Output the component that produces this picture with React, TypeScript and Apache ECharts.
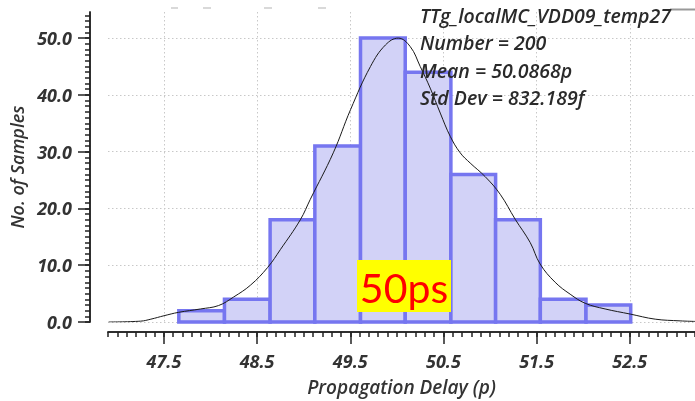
import React, { useEffect, useRef } from "react";
import * as echarts from "echarts";

// Histogram bin edges (p) and counts
const binEdges = [47.66, 48.15, 48.64, 49.12, 49.61, 50.09, 50.58, 51.06, 51.54, 52.03, 52.51];
const binCounts = [2, 4, 18, 31, 50, 44, 26, 18, 4, 3];

// Fitted density curve (x in p, y in samples)
const curveX = [46.907, 47.25, 47.36, 47.5, 47.657, 47.894, 48.087, 48.248, 48.43, 48.613, 48.752, 48.964, 49.071, 49.318, 49.503, 49.717, 49.878, 50.015, 50.144, 50.251, 50.358, 50.466, 50.573, 50.68, 50.787, 50.948, 51.109, 51.27, 51.431, 51.538, 51.699, 51.86, 52.021, 52.235, 52.504, 52.773, 53.04, 53.2];
const curveY = [0, 0.15, 0.5, 1.1, 1.7, 2.3, 2.9, 4.4, 6.5, 9.6, 12.8, 18, 21.6, 29.8, 37.4, 45, 48.8, 50, 48.5, 45, 41.2, 36.8, 32.7, 29.8, 28, 25.6, 22.5, 18.1, 14, 10.2, 7, 4.9, 3.3, 2.3, 1.4, 0.5, 0.2, 0.1];

// Axis ticks
const xMajorTicks = [47.5, 48.5, 49.5, 50.5, 51.5, 52.5];
const yMajorTicks = [0, 10, 20, 30, 40, 50];
const xMin = 46.9;
const xMax = 53.2;
const yMin = 0;
const yMax = 54.6;

const infoLines = ["TTg_localMC_VDD09_temp27", "Number = 200", "Mean = 50.0868p", "Std Dev = 832.189f"];
const tagText = "50ps";

export default function App() {
  const ref = useRef<HTMLDivElement>(null);
  useEffect(() => {
    document.body.style.margin = "0";
    const chart = echarts.init(ref.current!, null, { renderer: "svg" });
    const xMinor: number[] = [];
    for (let i = Math.round(xMin * 10); i <= Math.round(xMax * 10); i++) xMinor.push(i / 10);
    const yMinor: number[] = [];
    for (let i = 0; i <= Math.floor(yMax); i++) yMinor.push(i);

    const textColor = "#333";
    const labelFont = {
      color: textColor,
      fontFamily: "Open Sans",
      fontStyle: "italic" as const,
      fontWeight: "bold" as const,
      fontSize: 18,
    };
    const gridLine = { show: true, lineStyle: { color: "#c8c8c8", type: [1.5, 2.5] as any, width: 1 } };
    const axisLine = { show: true, onZero: false, lineStyle: { color: "#222", width: 1.5 } };

    const bins = binCounts.map((c, i) => [binEdges[i], binEdges[i + 1], c]);
    const curve = curveX.map((x, i) => [x, curveY[i]]);

    chart.setOption({
      animation: false,
      grid: { left: 108, right: 0, top: 12, bottom: 78 },
      xAxis: [
        {
          type: "value",
          min: xMin,
          max: xMax,
          offset: 10,
          axisLine,
          axisTick: { show: true, customValues: xMajorTicks, length: 12, lineStyle: { color: "#222", width: 1.5 } },
          axisLabel: { ...labelFont, customValues: xMajorTicks, margin: 20, formatter: (v: number) => v.toFixed(1) },
          splitLine: gridLine,
          name: "Propagation Delay (p)",
          nameLocation: "middle",
          nameGap: 45,
          nameTextStyle: { ...labelFont, fontWeight: 600, fontSize: 19 },
        },
        {
          type: "value",
          min: xMin,
          max: xMax,
          offset: 10,
          position: "bottom",
          axisLine,
          axisTick: { show: true, customValues: xMinor, length: 5, lineStyle: { color: "#222", width: 1.5 } },
          axisLabel: { show: false },
          splitLine: { show: false },
        },
      ],
      yAxis: [
        {
          type: "value",
          min: yMin,
          max: yMax,
          offset: 18,
          axisLine,
          axisTick: { show: true, customValues: yMajorTicks, length: 12, lineStyle: { color: "#222", width: 1.5 } },
          axisLabel: { ...labelFont, customValues: yMajorTicks, margin: 18, formatter: (v: number) => v.toFixed(1) },
          splitLine: gridLine,
          name: "No. of Samples",
          nameLocation: "middle",
          nameGap: 62,
          nameTextStyle: { ...labelFont, fontWeight: 600 },
        },
        {
          type: "value",
          min: yMin,
          max: yMax,
          offset: 18,
          position: "left",
          axisLine,
          axisTick: { show: true, customValues: yMinor, length: 5, lineStyle: { color: "#222", width: 1.5 } },
          axisLabel: { show: false },
          splitLine: { show: false },
        },
      ],
      series: [
        {
          type: "custom",
          xAxisIndex: 0,
          yAxisIndex: 0,
          data: bins,
          encode: { x: [0, 1], y: 2 },
          renderItem: (params: any, api: any) => {
            const p0 = api.coord([api.value(0), 0]);
            const p1 = api.coord([api.value(1), api.value(2)]);
            return {
              type: "rect",
              shape: { x: p0[0], y: p1[1], width: p1[0] - p0[0], height: p0[1] - p1[1] },
              style: { fill: "rgb(210,210,247)", stroke: "rgb(118,118,240)", lineWidth: 3.5 },
            };
          },
          z: 2,
        },
        {
          type: "line",
          xAxisIndex: 0,
          yAxisIndex: 0,
          data: curve,
          smooth: 0.4,
          showSymbol: false,
          lineStyle: { color: "#1a1a1a", width: 1 },
          z: 3,
        },
      ],
      graphic: [
        ...infoLines.map((t, i) => ({
          type: "text",
          x: 420,
          y: 15 + i * 27.5,
          z: 10,
          style: {
            text: t,
            fill: "#2a2a2a",
            font: 'italic 600 19.5px "Open Sans"',
            textVerticalAlign: "middle",
            textAlign: "left",
          },
        })),
        {
          type: "rect",
          shape: { x: 357, y: 260, width: 94, height: 52 },
          style: { fill: "#ffff00" },
          z: 10,
        },
        {
          type: "text",
          x: 404,
          y: 287,
          z: 11,
          style: {
            text: tagText,
            fill: "#ff0000",
            font: '41px Lato',
            textAlign: "center",
            textVerticalAlign: "middle",
          },
        },
        { type: "line", shape: { x1: 670, y1: 9.5, x2: 695, y2: 9.5 }, style: { stroke: "#999", lineWidth: 2 } },
        { type: "line", shape: { x1: 171, y1: 8, x2: 178, y2: 8 }, style: { stroke: "#ccc", lineWidth: 1.5 } },
        { type: "line", shape: { x1: 203, y1: 8, x2: 211, y2: 8 }, style: { stroke: "#ccc", lineWidth: 1.5 } },
        { type: "line", shape: { x1: 264, y1: 8, x2: 272, y2: 8 }, style: { stroke: "#ccc", lineWidth: 1.5 } },
        { type: "line", shape: { x1: 318, y1: 8, x2: 326, y2: 8 }, style: { stroke: "#ccc", lineWidth: 1.5 } },
      ],
    });
    return () => chart.dispose();
  }, []);
  return <div ref={ref} style={{ position: "fixed", left: 0, top: 0, width: 695, height: 401 }} />;
}
